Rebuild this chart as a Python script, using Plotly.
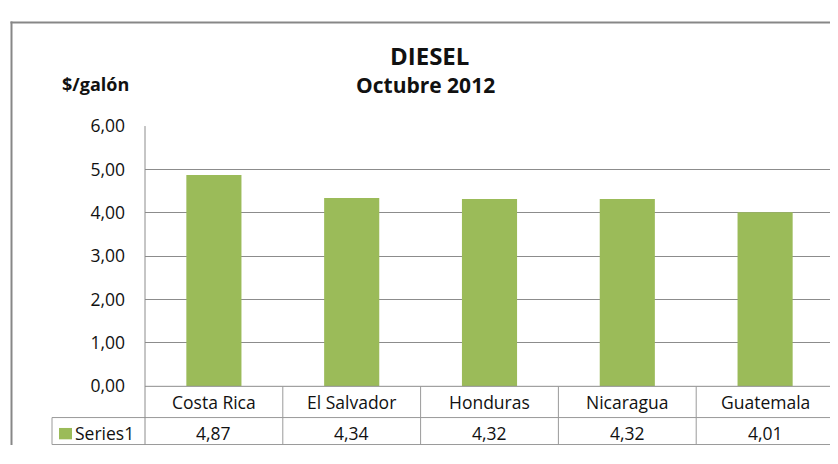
import plotly.graph_objects as go

categories = ["Costa Rica", "El Salvador", "Honduras", "Nicaragua", "Guatemala"]
values = [4.87, 4.34, 4.32, 4.32, 4.01]
value_labels = ["4,87", "4,34", "4,32", "4,32", "4,01"]
series_name = "Series1"
y_ticks = [0, 1, 2, 3, 4, 5, 6]

# the page has an 8px body margin; the figure is sized so the page fits the window
OFF = 8
VW, VH = 838, 464
W, H = VW - 2 * OFF, VH - 2 * OFF
FONT = "Open Sans"
BAR = "#9BBB59"
GRID = "#8c8c8c"
TBL = "#9a9a9a"
TXT = "#111111"

# layout positions in window pixels
PL, PR, PT, PB = 145, 834, 119, 394
ROW1, ROW2 = 427, 455.5
TL = 52
XMAX = OFF + W  # right edge of the figure in window pixels


def px(x):
    return min(max((x - OFF) / W, 0), 1)


def py(y):
    return min(max(1 - (y - OFF) / H, 0), 1)


n = len(categories)
fig = go.Figure()
fig.add_trace(go.Bar(
    x=list(range(n)), y=values, marker=dict(color=BAR, line=dict(width=0)),
    width=0.4, name=series_name, showlegend=False, hoverinfo="skip"))

shapes = []
# outer chart border (top and left edges)
shapes.append(dict(type="line", xref="paper", yref="paper", x0=px(10.5), x1=1,
                   y0=py(9.5), y1=py(9.5), line=dict(color="#878787", width=2)))
shapes.append(dict(type="line", xref="paper", yref="paper", x0=px(11.5), x1=px(11.5),
                   y0=py(8.5), y1=0, line=dict(color="#878787", width=2)))
# data table
for yy in (ROW1, ROW2):
    shapes.append(dict(type="line", xref="paper", yref="paper", x0=px(TL), x1=px(PR),
                       y0=py(yy), y1=py(yy), line=dict(color=TBL, width=1)))
shapes.append(dict(type="line", xref="paper", yref="paper", x0=px(TL), x1=px(TL),
                   y0=py(ROW1), y1=py(ROW2), line=dict(color=TBL, width=1)))
shapes.append(dict(type="line", xref="paper", yref="paper", x0=px(PL), x1=px(PR),
                   y0=py(PB), y1=py(PB), line=dict(color=GRID, width=1)))
for i in range(n):
    xx = PL + (PR - PL) * i / n
    shapes.append(dict(type="line", xref="paper", yref="paper", x0=px(xx), x1=px(xx),
                       y0=py(PB if i else PT), y1=py(ROW2), line=dict(color=TBL if i else GRID, width=1)))
# legend key
shapes.append(dict(type="rect", xref="paper", yref="paper", x0=px(59), x1=px(72),
                   y0=py(450), y1=py(438), fillcolor=BAR, line=dict(width=0)))


def ann(text, x, y, size, xanchor="center"):
    return dict(text=text, x=px(x), y=py(y), xref="paper", yref="paper", showarrow=False,
                xanchor=xanchor, yanchor="middle", font=dict(family=FONT, size=size, color=TXT))


annotations = [
    ann("<b>DIESEL</b>", 429, 44, 24),
    ann("<b>Octubre 2012</b>", 425, 76, 21),
    ann("<b>$/galón</b>", 95, 75, 18),
]
for i, c in enumerate(categories):
    xc = PL + (PR - PL) * (i + 0.5) / n
    annotations.append(ann(c, xc, (PB + ROW1) / 2 + 0.5, 17.5))
    annotations.append(ann(value_labels[i], xc, 443, 17.5))
annotations.append(ann(series_name, 73, 443, 17.5, xanchor="left"))

x_hi = -0.5 + n * (min(PR, XMAX) - PL) / (PR - PL)

fig.update_layout(
    width=W, height=H, margin=dict(l=0, r=0, t=0, b=0),
    paper_bgcolor="white", plot_bgcolor="white",
    separators=",.",
    shapes=shapes, annotations=annotations,
    xaxis=dict(domain=[px(PL), px(PR)], range=[-0.5, x_hi], showticklabels=False,
               showgrid=False, zeroline=False, showline=False, ticks="", fixedrange=True),
    yaxis=dict(domain=[py(PB), py(PT)], range=[0, 6], tickvals=y_ticks, tickformat=".2f",
               showgrid=True, gridcolor=GRID, gridwidth=1, zeroline=False, showline=False,
               ticks="", ticklabelstandoff=19,
               tickfont=dict(family=FONT, size=17.5, color=TXT), fixedrange=True),
)

fig.write_html("out.html")
